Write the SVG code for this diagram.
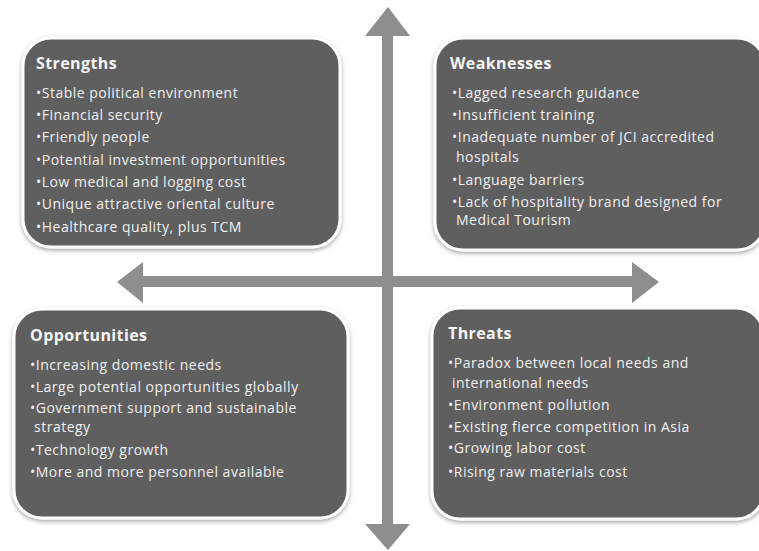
<svg xmlns="http://www.w3.org/2000/svg" width="759" height="551" viewBox="0 0 759 551">
<defs>
<filter id="sh" x="-10%" y="-10%" width="120%" height="125%">
<feDropShadow dx="0" dy="2" stdDeviation="2" flood-color="#000" flood-opacity="0.35"/>
</filter>
<style>
.box{fill:#5e5e5e;stroke:#ffffff;stroke-width:3;filter:url(#sh)}
.arrow{fill:#8e8e8e}
.h{font-family:"Open Sans","Liberation Sans",sans-serif;font-weight:bold;font-size:16px;letter-spacing:0.4px;fill:#f4f4f4}
.t{font-family:"Open Sans","Liberation Sans",sans-serif;font-size:14px;letter-spacing:0.5px;fill:#f0f0f0}
</style>
</defs>
<rect width="759" height="551" fill="#ffffff"/>
<g id="connectors">
<polygon class="arrow" points="388,7 410,36 393,36 393,524 410,524 388,550 365,524 382,524 382,36 365,36"/>
<polygon class="arrow" points="117,282 143,262 143,276 632,276 632,262 659,282 632,303 632,287 143,287 143,303"/>
</g>
<g id="strengths">
<rect class="box" x="23" y="38" width="317" height="209" rx="28"/>
<text class="h" x="36" y="69">Strengths</text>
<text class="t" x="36" y="98">•Stable political environment</text>
<text class="t" x="36" y="120">•Financial security</text>
<text class="t" x="36" y="142">•Friendly people</text>
<text class="t" x="36" y="165">•Potential investment opportunities</text>
<text class="t" x="36" y="187">•Low medical and logging cost</text>
<text class="t" x="36" y="209">•Unique attractive oriental culture</text>
<text class="t" x="36" y="232">•Healthcare quality, plus TCM</text>
</g>
<g id="weaknesses">
<rect class="box" x="435" y="38" width="330" height="212" rx="28"/>
<text class="h" x="450" y="69">Weaknesses</text>
<text class="t" x="452" y="98">•Lagged research guidance</text>
<text class="t" x="452" y="120">•Insufficient training</text>
<text class="t" x="452" y="142">•Inadequate number of JCI accredited</text>
<text class="t" x="456" y="162">hospitals</text>
<text class="t" x="452" y="185">•Language barriers</text>
<text class="t" x="452" y="207">•Lack of hospitality brand designed for</text>
<text class="t" x="456" y="225">Medical Tourism</text>
</g>
<g id="opportunities">
<rect class="box" x="14" y="309" width="334" height="209" rx="28"/>
<text class="h" x="30" y="341">Opportunities</text>
<text class="t" x="30" y="370">•Increasing domestic needs</text>
<text class="t" x="30" y="392">•Large potential opportunities globally</text>
<text class="t" x="30" y="413">•Government support and sustainable</text>
<text class="t" x="34" y="432">strategy</text>
<text class="t" x="30" y="455">•Technology growth</text>
<text class="t" x="30" y="477">•More and more personnel available</text>
</g>
<g id="threats">
<rect class="box" x="432" y="308" width="332" height="211" rx="28"/>
<text class="h" x="448" y="339">Threats</text>
<text class="t" x="448" y="368">•Paradox between local needs and</text>
<text class="t" x="452" y="388">international needs</text>
<text class="t" x="448" y="410">•Environment pollution</text>
<text class="t" x="448" y="432">•Existing fierce competition in Asia</text>
<text class="t" x="448" y="453">•Growing labor cost</text>
<text class="t" x="448" y="477">•Rising raw materials cost</text>
</g>
</svg>
